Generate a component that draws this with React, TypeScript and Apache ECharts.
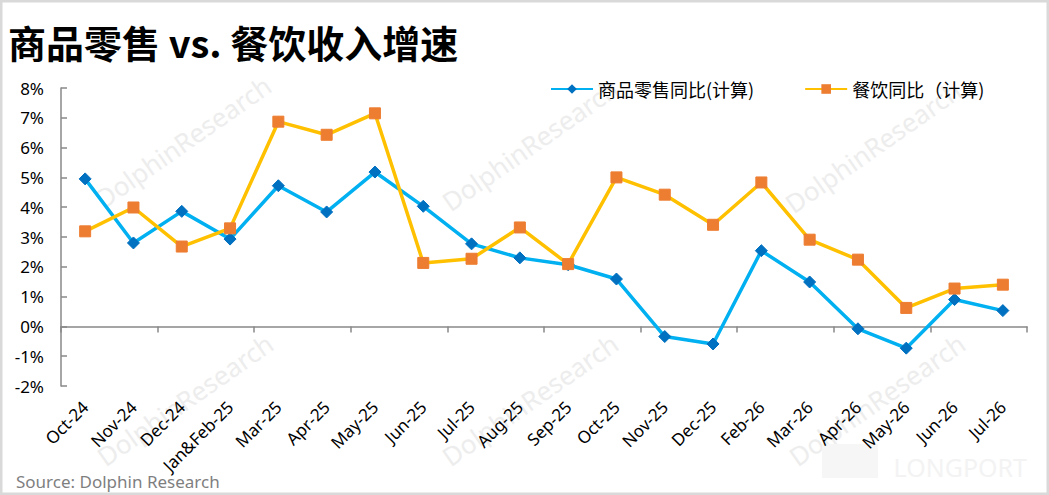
import React, { useEffect, useRef } from "react";
import * as echarts from "echarts";

const categories = [
  "Oct-24", "Nov-24", "Dec-24", "Jan&Feb-25", "Mar-25", "Apr-25", "May-25",
  "Jun-25", "Jul-25", "Aug-25", "Sep-25", "Oct-25", "Nov-25", "Dec-25",
  "Feb-26", "Mar-26", "Apr-26", "May-26", "Jun-26", "Jul-26",
];
const retailYoY = [
  4.95, 2.8, 3.86, 2.93, 4.72, 3.84, 5.18, 4.03, 2.77, 2.3, 2.07, 1.59,
  -0.34, -0.59, 2.54, 1.49, -0.08, -0.73, 0.9, 0.53,
];
const cateringYoY = [
  3.19, 3.99, 2.68, 3.29, 6.87, 6.43, 7.15, 2.13, 2.27, 3.32, 2.09, 5.0,
  4.42, 3.41, 4.83, 2.91, 2.24, 0.62, 1.27, 1.4,
];
const seriesNames = ["商品零售同比(计算)", "餐饮同比（计算)"];
const yMin = -2;
const yMax = 8;
const yStep = 1;

const FONT = "'Noto Sans', 'Noto Sans CJK SC', sans-serif";
const CJK = "'Noto Sans CJK SC', 'Noto Sans', sans-serif";

export default function App() {
  const ref = useRef<HTMLDivElement>(null);
  useEffect(() => {
    document.body.style.margin = "0";
    if (!ref.current) return;
    const chart = echarts.init(ref.current, null, { renderer: "svg" });
    const wmCenters = [
      [183, 142], [530, 145], [873, 147],
      [185, 400], [530, 400], [877, 400],
    ];
    const watermarks = wmCenters.map(([x, y]) => ({
      type: "text",
      x,
      y,
      rotation: (35 * Math.PI) / 180,
      z: 0,
      silent: true,
      style: {
        text: "DolphinResearch",
        fill: "#ededed",
        font: `26px ${FONT}`,
        textAlign: "center",
        textVerticalAlign: "middle",
      },
    }));
    chart.setOption({
      animation: false,
      backgroundColor: "#ffffff",
      graphic: [
        {
          type: "rect",
          z: 0,
          silent: true,
          shape: { x: 1.25, y: 1.25, width: 1046.5, height: 492.5 },
          style: { fill: "none", stroke: "#d9d9d9", lineWidth: 2.5 },
        },
        ...watermarks,
        {
          type: "rect",
          z: 0,
          silent: true,
          shape: { x: 822, y: 444, width: 56, height: 34 },
          style: { fill: "#f6f6f6" },
        },
        {
          type: "text",
          x: 1027,
          y: 467,
          z: 0,
          silent: true,
          style: {
            text: "LONGPORT",
            fill: "#f3f3f3",
            font: `25px ${FONT}`,
            textAlign: "right",
            textVerticalAlign: "middle",
          },
        },
        {
          type: "text",
          x: 8,
          y: 41,
          style: {
            text: "商品零售 vs. 餐饮收入增速",
            fill: "#000000",
            font: `bold 38px ${CJK}`,
            textAlign: "left",
            textVerticalAlign: "middle",
          },
        },
        {
          type: "text",
          x: 16,
          y: 481,
          style: {
            text: "Source: Dolphin Research",
            fill: "#7f7f7f",
            font: `17px ${FONT}`,
            textAlign: "left",
            textVerticalAlign: "middle",
          },
        },
      ],
      legend: {
        left: 545,
        top: 75,
        itemWidth: 42,
        itemHeight: 12,
        itemGap: 50,
        textStyle: { fontSize: 18, color: "#000", fontFamily: CJK },
        data: seriesNames,
      },
      grid: { left: 61, right: 22, top: 88, bottom: 109, containLabel: false },
      xAxis: [
        {
          type: "category",
          data: categories,
          position: "bottom",
          axisLine: { onZero: true, lineStyle: { color: "#888888", width: 1.5 } },
          axisTick: { show: true, length: 6, lineStyle: { color: "#888888", width: 1.5 } },
          axisLabel: { show: false },
          splitLine: { show: false },
        },
        {
          type: "category",
          data: categories,
          position: "bottom",
          axisLine: { show: false, onZero: false },
          axisTick: { show: false },
          axisLabel: {
            show: true,
            rotate: 45,
            interval: 0,
            margin: 18,
            fontSize: 17,
            color: "#000",
            fontFamily: FONT,
          },
          splitLine: { show: false },
        },
      ],
      yAxis: {
        type: "value",
        min: yMin,
        max: yMax,
        interval: yStep,
        axisLine: { show: true, lineStyle: { color: "#888888", width: 1.5 } },
        axisTick: { show: true, inside: true, length: 6, lineStyle: { color: "#888888", width: 1.5 } },
        axisLabel: {
          formatter: "{value}%",
          fontSize: 17,
          color: "#000",
          margin: 17,
          fontFamily: FONT,
        },
        splitLine: { show: false },
      },
      series: [
        {
          name: seriesNames[0],
          type: "line",
          xAxisIndex: 0,
          data: retailYoY,
          z: 3,
          symbol: "diamond",
          symbolSize: 12,
          lineStyle: { color: "#00b0f0", width: 3.5 },
          itemStyle: { color: "#0070c0", borderColor: "#0070c0" },
        },
        {
          name: seriesNames[1],
          type: "line",
          xAxisIndex: 0,
          data: cateringYoY,
          z: 4,
          symbol: "rect",
          symbolSize: 11,
          lineStyle: { color: "#ffc000", width: 3.5 },
          itemStyle: { color: "#ed7d31", borderColor: "#ed7d31" },
        },
      ],
    });
    return () => chart.dispose();
  }, []);
  return <div ref={ref} style={{ width: 1049, height: 495 }} />;
}
